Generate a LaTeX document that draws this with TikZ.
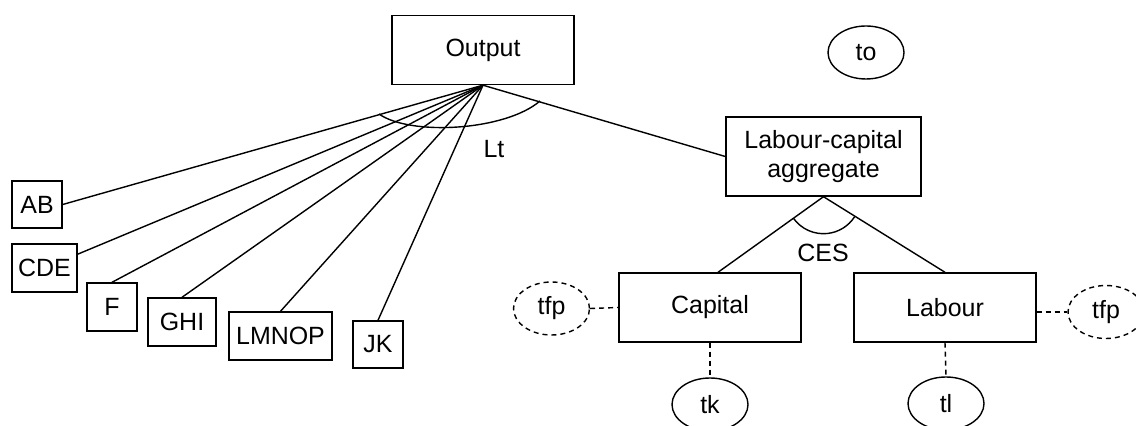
\documentclass[tikz,border=0pt]{standalone}
\usepackage{fontspec}
\setmainfont{Liberation Sans}
\usetikzlibrary{shapes.geometric}
\begin{document}
\begin{tikzpicture}[line width=0.8pt,font=\fontsize{14.2}{17}\selectfont,
  blk/.style={draw,rectangle,inner sep=0pt,minimum height=0.96cm},
  ell/.style={draw,ellipse,inner sep=0pt,minimum width=1.52cm,minimum height=1.06cm},
  dsh/.style={dash pattern=on 0.1cm off 0.08cm}]
\useasboundingbox(0,0)rectangle(22.72,8.52);
\node[blk,minimum width=3.64cm,minimum height=1.38cm](out)at(9.66,7.52){Output};
\node[ell](to)at(17.32,7.47){to};
\node[blk,minimum width=3.9cm,minimum height=1.58cm,align=center](lc)at(16.47,5.39){Labour-capital\\aggregate};
\node[blk,minimum width=1cm,minimum height=0.94cm](ab)at(0.74,4.43){AB};
\node[blk,minimum width=1.3cm](cde)at(0.89,3.16){CDE};
\node[blk,minimum width=1cm](f)at(2.24,2.38){F};
\node[blk,minimum width=1.36cm](ghi)at(3.64,2.08){GHI};
\node[blk,minimum width=2.06cm](lmnop)at(5.61,1.8){LMNOP};
\node[blk,minimum width=1cm,minimum height=0.94cm](jk)at(7.56,1.63){JK};
\node[blk,minimum width=3.64cm,minimum height=1.38cm](cap)at(14.2,2.37){Capital};
\node[blk,minimum width=3.64cm,minimum height=1.38cm](lab)at(18.9,2.37){Labour};
\node[ell,dsh](tfpk)at(11.03,2.35){tfp};
\node[ell,dsh](tfpl)at(22.12,2.28){tfp};
\node[ell](tk)at(14.2,0.43){tk};
\node[ell](tl)at(18.92,0.45){tl};
\node(lt)at(9.88,5.54){Lt};
\node(ces)at(16.46,3.46){CES};
% inputs into output
\draw(out.south)--(ab.east);
\draw(out.south)--(cde);
\foreach \n in {f,ghi,lmnop,jk}\draw(out.south)--(\n.north);
\draw(out.south)--(lc.west);
\draw(7.58,6.24)..controls(8.2,5.8)and(10.1,5.9)..(10.8,6.5);
% CES nest
\draw([xshift=0.16cm]cap.north)--(lc.south)--(lab.north);
\draw([shift={(216:0.74)}]lc.south)arc[start angle=216,end angle=327,radius=0.74];
\draw[dsh](tfpk.east)--(cap.west);
\draw[dsh](lab.east|-tfpl.west)--(tfpl.west);
\draw[dsh](cap.south)--(tk.north);
\draw[dsh](lab.south)--(tl.north);
\end{tikzpicture}
\end{document}
